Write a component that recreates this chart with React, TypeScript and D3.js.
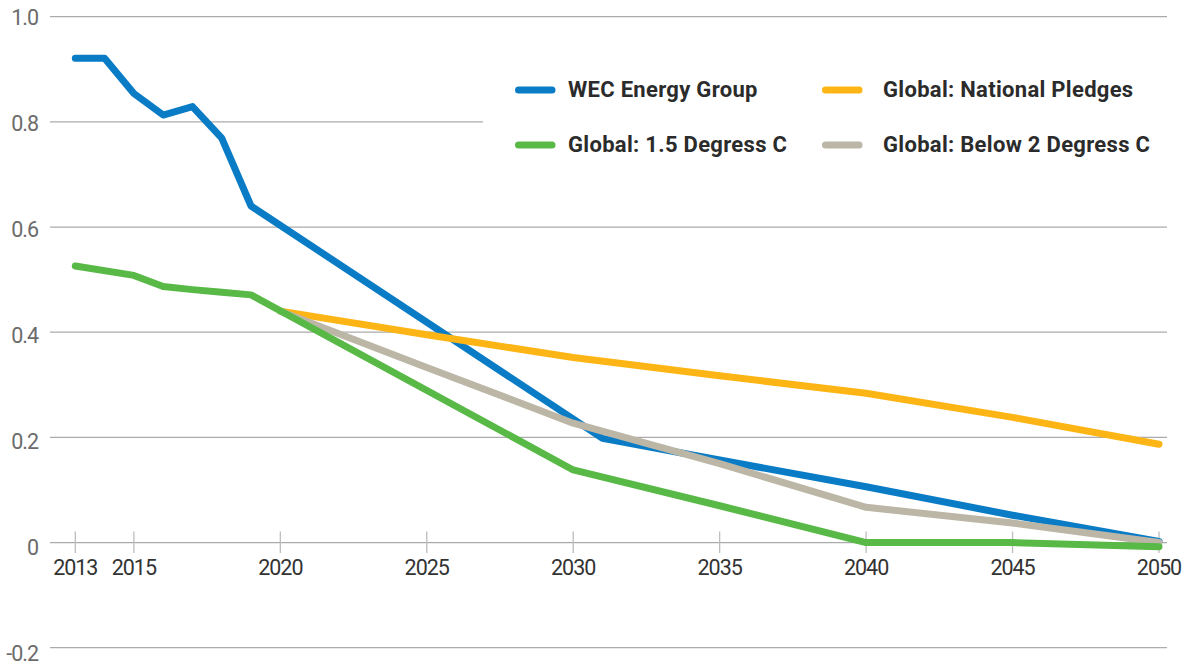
import React from 'react';
import * as d3 from 'd3';

// values
const wecYears = [2013, 2014, 2015, 2016, 2017, 2018, 2019, 2031, 2035, 2040, 2045, 2050];
const wecValues = [0.921, 0.921, 0.854, 0.813, 0.829, 0.769, 0.64, 0.198, 0.157, 0.106, 0.052, 0.002];

const pledgeYears = [2020, 2025, 2030, 2035, 2040, 2045, 2050];
const pledgeValues = [0.44, 0.395, 0.352, 0.317, 0.284, 0.238, 0.187];

const below2Years = [2020, 2025, 2030, 2035, 2040, 2045, 2050];
const below2Values = [0.44, 0.333, 0.227, 0.15, 0.067, 0.037, 0.0];

const deg15Years = [2013, 2015, 2016, 2017, 2018, 2019, 2030, 2035, 2040, 2045, 2050];
const deg15Values = [0.526, 0.508, 0.487, 0.481, 0.476, 0.471, 0.138, 0.07, 0.0, 0.0, -0.008];

const xTicks = [2013, 2015, 2020, 2025, 2030, 2035, 2040, 2045, 2050];
const yTicks = [1.0, 0.8, 0.6, 0.4, 0.2, 0, -0.2];
const yTickLabels = ['1.0', '0.8', '0.6', '0.4', '0.2', '0', '-0.2'];

const legendNames = ['WEC Energy Group', 'Global: National Pledges', 'Global: 1.5 Degress C', 'Global: Below 2 Degress C'];

const BLUE = '#0a7cc6';
const ORANGE = '#fdb515';
const GREEN = '#58b947';
const BEIGE = '#bcb6a6';

const width = 1191;
const height = 666;

const App: React.FC = () => {
  const x = d3.scaleLinear().domain([2013, 2050]).range([75.3, 1159]);
  const y = d3.scaleLinear().domain([-0.2, 1.0]).range([647.7, 16.7]);
  // tick labels drift slightly lower than the gridlines in the original
  const yLabel = d3.scaleLinear().domain([-0.2, 1.0]).range([653, 17]);

  const line = d3
    .line<[number, number]>()
    .x((d) => x(d[0]))
    .y((d) => y(d[1]));

  const zip = (a: number[], b: number[]) => a.map((v, i) => [v, b[i]] as [number, number]);

  // draw order matters: green sits on top
  const series = [
    { years: wecYears, values: wecValues, color: BLUE },
    { years: pledgeYears, values: pledgeValues, color: ORANGE },
    { years: below2Years, values: below2Values, color: BEIGE },
    { years: deg15Years, values: deg15Values, color: GREEN },
  ];

  const legendColors = [BLUE, ORANGE, GREEN, BEIGE];
  const legendPos = [
    { x: 515, y: 90 },
    { x: 822, y: 90 },
    { x: 515, y: 145 },
    { x: 822, y: 145 },
  ];

  const tickFont = "'Roboto', sans-serif";

  return (
    <svg
      width={width}
      height={height}
      style={{ position: 'absolute', left: 0, top: 0, background: '#fff' }}
    >
      {/* gridlines */}
      <g>
        {yTicks.map((t) => (
          <line
            key={t}
            x1={50}
            x2={t === 0.8 ? 483 : 1167}
            y1={y(t)}
            y2={y(t)}
            stroke="#ababab"
            strokeWidth={1.3}
          />
        ))}
      </g>
      {/* y labels */}
      <g fontFamily={tickFont} fontSize={21.5} letterSpacing={-1} fill="#6b6b6b">
        {yTicks.map((t, i) => (
          <text key={t} x={38} y={yLabel(t)} dy="0.35em" textAnchor="end">
            {yTickLabels[i]}
          </text>
        ))}
      </g>
      {/* x ticks */}
      <g fontFamily={tickFont} fontSize={21.5} letterSpacing={-1} fill="#333">
        {xTicks.map((t) => (
          <g key={t}>
            <line x1={x(t)} x2={x(t)} y1={y(0) - 11} y2={y(0) + 10.5} stroke="#bdbdbd" strokeWidth={1.3} />
            <text x={x(t)} y={575} textAnchor="middle">
              {t}
            </text>
          </g>
        ))}
      </g>
      {/* series */}
      <g fill="none" strokeWidth={7} strokeLinecap="round" strokeLinejoin="round">
        {series.map((s, i) => (
          <path key={i} d={line(zip(s.years, s.values)) || ''} stroke={s.color} />
        ))}
      </g>
      {/* legend */}
      <g fontFamily="'Roboto', sans-serif" fontWeight={700} fontSize={22} letterSpacing={0.3} fill="#2b2b2b">
        {legendNames.map((name, i) => (
          <g key={name} transform={`translate(${legendPos[i].x},${legendPos[i].y})`}>
            <line x1={3.5} x2={37} y1={0} y2={0} stroke={legendColors[i]} strokeWidth={7} strokeLinecap="round" />
            <text x={i % 2 === 0 ? 53 : 61} y={0} dy="0.32em">
              {name}
            </text>
          </g>
        ))}
      </g>
    </svg>
  );
};

export default App;
